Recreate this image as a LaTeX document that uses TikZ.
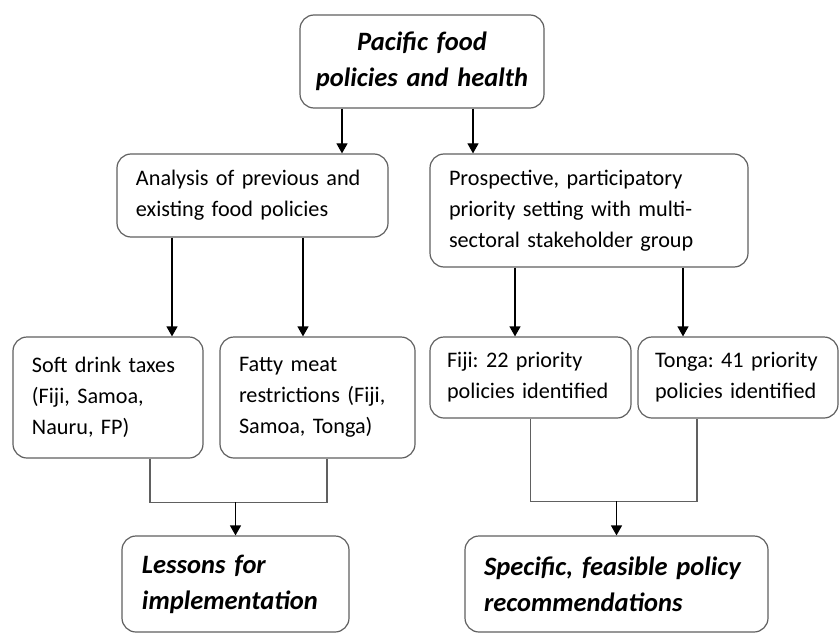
\documentclass[tikz,border=0pt]{standalone}
\usepackage{fontspec}
\setmainfont{Carlito}
\usepackage{tikz}
\usetikzlibrary{positioning,arrows.meta}
\definecolor{boxgray}{RGB}{96,96,96}
\hyphenpenalty=10000
\frenchspacing

\begin{document}
\begin{tikzpicture}[x=1bp, y=-1bp, on grid,
box/.style={draw=boxgray, line width=1.2bp, rounded corners=14bp, inner xsep=19bp, inner ysep=0pt, align=left, font=\fontsize{22.2bp}{31bp}\selectfont},
head/.style={box, inner xsep=14bp, font=\fontsize{26.5bp}{36bp}\selectfont\bfseries\itshape},
arr/.style={-{Triangle[length=10bp,width=11bp]}, line width=1.2bp, black},
link/.style={draw=boxgray, line width=1.2bp}]
\useasboundingbox (0,0) rectangle (840,633);
\node [head, align=center, text width=216bp, minimum height=93bp] (top) at (422,61.5) {Pacific food\\policies and health};
\node [box, text width=233bp, minimum height=83bp] (analysis) [below left = 134bp and 169.5bp of top] {Analysis of previous and\\existing food policies};
\node [box, text width=280bp, minimum height=113bp] (prosp) [below right = 149bp and 167bp of top] {Prospective, participatory\\priority setting with multi-\\sectoral stakeholder group};
\node [box, text width=152bp, minimum height=121bp] (soft) [below left = 202bp and 144.5bp of analysis] {Soft drink taxes\\(Fiji, Samoa,\\Nauru, FP)};
\node [box, text width=157bp, minimum height=121bp] (fatty) [right = 209.5bp of soft] {Fatty meat\\restrictions (Fiji,\\Samoa, Tonga)};
\node [box, inner xsep=17bp, text width=167bp, minimum height=81bp] (fiji) [below left = 167bp and 58.5bp of prosp] {Fiji: 22 priority\\policies identified};
\node [box, inner xsep=17bp, text width=166bp, minimum height=81bp] (tonga) [right = 207.5bp of fiji] {Tonga: 41 priority\\policies identified};
\node [head, inner xsep=20bp, text width=187bp, minimum height=96bp] (lessons) [below right = 186.5bp and 127.5bp of soft] {Lessons for\\implementation};
\node [head, inner xsep=19bp, text width=265bp, minimum height=96bp] (specific) [right = 381bp of lessons] {Specific, feasible policy\\recommendations};
\path [arr]
([xshift=-80bp]top.south) edge ([xshift=-80bp]top.south |- analysis.north)
([xshift=51bp]top.south) edge ([xshift=51bp]top.south |- prosp.north)
([xshift=64bp]soft.north |- analysis.south) edge ([xshift=64bp]soft.north)
([xshift=-14.5bp]fatty.north |- analysis.south) edge ([xshift=-14.5bp]fatty.north)
([xshift=-15.5bp]fiji.north |- prosp.south) edge ([xshift=-15.5bp]fiji.north)
([xshift=-55bp]tonga.north |- prosp.south) edge ([xshift=-55bp]tonga.north);
% joining lines into the bottom boxes
\coordinate (jl) at ([yshift=33bp]lessons.north);
\coordinate (jr) at ([yshift=34bp]specific.north);
\draw [link] ([xshift=42bp]soft.south) |- (jl) -| ([xshift=9.5bp]fatty.south);
\draw [link] (fiji.south) |- (jr) -| ([xshift=-41bp]tonga.south);
\draw [arr] (jl) -- (lessons.north);
\draw [arr] (jr) -- (specific.north);
\end{tikzpicture}
\end{document}
